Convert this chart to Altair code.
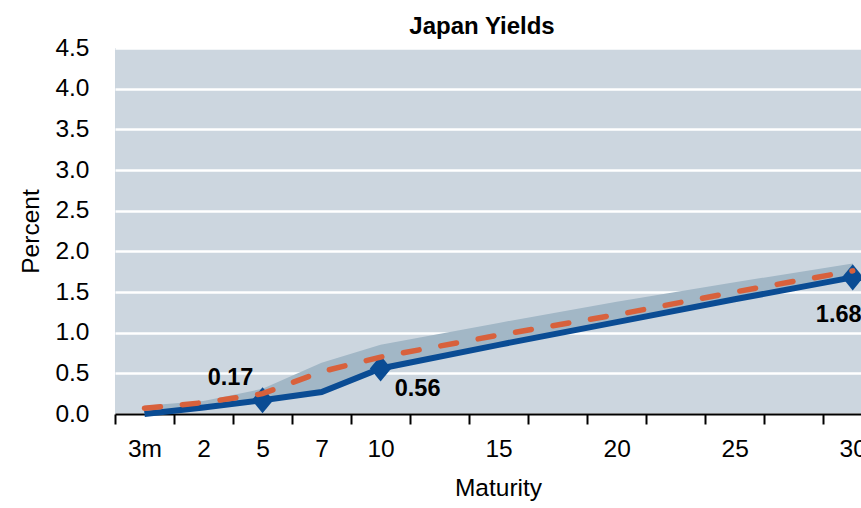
import altair as alt
import pandas as pd

# ---- data ----
slots = ["3m", "2", "5", "7", "10", "12.5", "15", "17.5", "20", "22.5", "25", "27.5", "30"]
slot_labels = ["3m", "2", "5", "7", "10", "", "15", "", "20", "", "25", "", "30"]
maturities = ["3m", "2", "5", "7", "10", "15", "20", "25", "30"]
current = [0.00, 0.08, 0.17, 0.27, 0.56, 0.85, 1.13, 1.41, 1.68]
dashed = [0.07, 0.14, 0.25, 0.52, 0.70, 0.97, 1.22, 1.50, 1.76]
range_high = [0.10, 0.16, 0.31, 0.63, 0.85, 1.12, 1.38, 1.62, 1.85]
marked = ["5", "10", "30"]
y_ticks = [0.0, 0.5, 1.0, 1.5, 2.0, 2.5, 3.0, 3.5, 4.0, 4.5]

df = pd.DataFrame({
    "maturity": maturities,
    "idx": [slots.index(m) for m in maturities],
    "current": current,
    "dashed": dashed,
    "high": range_high,
})
df["label"] = df["current"].map(lambda v: f"{v:.2f}")

FONT = "Liberation Sans, Arial, sans-serif"
BG = "#CCD6DF"
BAND = "#A2B7C6"
BLUE = "#0A4C94"
RED = "#D8613C"

label_js = "[" + ",".join(f"'{s}'" for s in slot_labels) + "]"

x_enc = alt.X(
    "idx:Q",
    scale=alt.Scale(domain=[-0.5, 12.14], nice=False, zero=False),
    axis=alt.Axis(
        values=[i - 0.5 for i in range(len(slots))],
        labelExpr=f"{label_js}[round(datum.value + 0.5)]",
        labelOffset=29.5,
        labelFlush=False,
        labelOverlap=False,
        grid=False,
        domainColor="black",
        domainWidth=2,
        tickColor="black",
        tickWidth=2,
        tickSize=10,
        labelFontSize=24.5,
        labelPadding=13,
        labelFont=FONT,
        labelColor="black",
        title="Maturity",
        titleFont=FONT,
        titleFontSize=24.5,
        titleFontWeight="normal",
        titleColor="black",
        titleX=383,
        titlePadding=16,
    ),
)

y_axis = alt.Axis(
    values=y_ticks,
    format=".1f",
    grid=True,
    gridColor="white",
    gridWidth=2.3,
    ticks=False,
    domain=False,
    labelFontSize=24.5,
    labelFont=FONT,
    labelColor="black",
    labelPadding=26,
    title="Percent",
    titleFont=FONT,
    titleFontSize=24.5,
    titleFontWeight="normal",
    titleColor="black",
    titlePadding=11,
)
y_scale = alt.Scale(domain=[0, 4.5], nice=False, zero=True)

base = alt.Chart(df)

band = base.mark_area(color=BAND, opacity=1).encode(
    x=x_enc,
    y=alt.Y("current:Q", scale=y_scale, axis=y_axis),
    y2="high:Q",
)

blue_line = base.mark_line(color=BLUE, strokeWidth=6).encode(
    x="idx:Q", y="current:Q"
)

diamond = "M0,-1L0.82,0L0,1L-0.82,0Z"
points = base.mark_point(
    shape=diamond, filled=True, color=BLUE, size=680, opacity=1
).encode(x="idx:Q", y="current:Q").transform_filter(
    alt.FieldOneOfPredicate(field="maturity", oneOf=marked)
)

red_line = base.mark_line(
    color=RED, strokeWidth=5.5, strokeDash=[16, 22], strokeCap="round"
).encode(x="idx:Q", y="dashed:Q")


def label_layer(mat, dx, dy):
    return base.mark_text(
        font=FONT, fontSize=23.5, fontWeight="bold", color="black", dx=dx, dy=dy
    ).encode(x="idx:Q", y="current:Q", text="label:N").transform_filter(
        alt.datum.maturity == mat
    )


labels = [label_layer("5", -32, -22), label_layer("10", 37, 21), label_layer("30", -14, 38)]

chart = alt.layer(band, blue_line, points, red_line, *labels).properties(
    width=746,
    height=366,
    background="white",
    autosize=alt.AutoSizeParams(type="none"),
    padding={"left": 115, "top": 48, "right": 0, "bottom": 90},
    title=alt.TitleParams(
        "Japan Yields",
        font=FONT,
        fontSize=24,
        fontWeight="bold",
        color="black",
        anchor="middle",
        dx=-6,
        offset=-4,
    ),
).configure_view(fill=BG, stroke=None)

chart.save("out.html", embed_options={"renderer": "svg", "actions": False})
